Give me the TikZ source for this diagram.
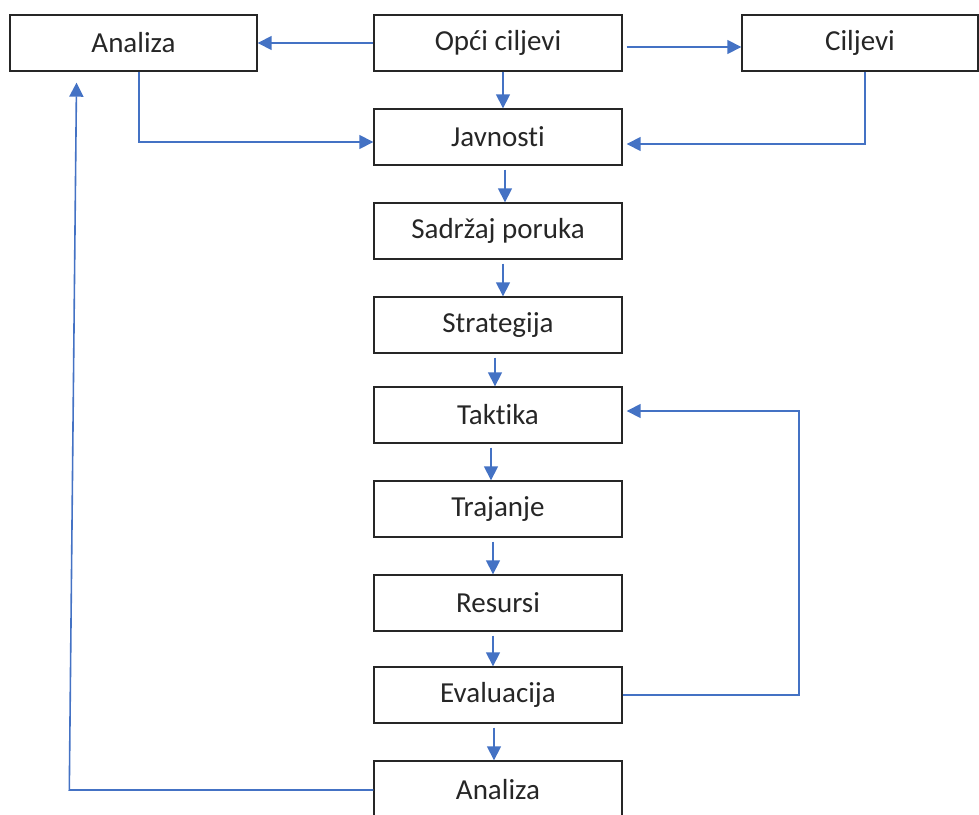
\documentclass[tikz,border=0pt]{standalone}
\usepackage{fontspec}
\setmainfont{Carlito}[Ligatures=NoCommon]
\usetikzlibrary{arrows.meta}
\definecolor{arr}{HTML}{4472C4}
\definecolor{txt}{HTML}{262626}
\begin{document}
\begin{tikzpicture}[x=1pt,y=-1pt,
 box/.style={draw=black!85, line width=1.4pt, minimum width=248pt, minimum height=56pt, inner sep=0pt, font=\fontsize{29}{34}\selectfont, text=txt},
 conn/.style={draw=arr, line width=1.6pt, -{Triangle[length=14pt,width=14pt]}}]
\useasboundingbox (0,0) rectangle (979,814);
\clip (0,0) rectangle (979,814);
\node[box, minimum width=247pt] (a1) at (133.5,43) {Analiza};
\node[box] (op) at (498,43) {Opći ciljevi};
\node[box, minimum width=236pt] (ci) at (860,43) {Ciljevi};
\node[box] (jav) at (498,137) {Javnosti};
\node[box] (sad) at (498,231) {Sadržaj poruka};
\node[box] (str) at (498,325) {Strategija};
\node[box] (tak) at (498,415) {Taktika};
\node[box] (tra) at (498,509) {Trajanje};
\node[box] (res) at (498,603) {Resursi};
\node[box] (eva) at (498,695) {Evaluacija};
\node[box, minimum height=58pt] (a2) at (498,790) {Analiza};
\draw[conn] (op.west) -- (a1.east);
\draw[conn] ([shift={(4,4)}]op.east) -- ([shift={(0,4)}]ci.west);
\draw[conn] ([shift={(5,0)}]op.south) -- ([shift={(5,0)}]jav.north);
\draw[conn] ([shift={(5.5,0)}]a1.south) |- ([shift={(0,5)}]jav.west);
\draw[conn] ([shift={(5,0)}]ci.south) |- ([shift={(4,7)}]jav.east);
\draw[conn] ([shift={(7,4)}]jav.south) -- ([shift={(7,0)}]sad.north);
\draw[conn] ([shift={(5,4)}]sad.south) -- ([shift={(5,0)}]str.north);
\draw[conn] ([shift={(-3,4)}]str.south) -- ([shift={(-3,0)}]tak.north);
\draw[conn] ([shift={(-7,4)}]tak.south) -- ([shift={(-7,0)}]tra.north);
\draw[conn] ([shift={(-5,4)}]tra.south) -- ([shift={(-5,0)}]res.north);
\draw[conn] ([shift={(-5,4)}]res.south) -- ([shift={(-5,0)}]eva.north);
\draw[conn] ([shift={(-4,4)}]eva.south) -- ([shift={(-4,0)}]a2.north);
\draw[conn] (eva.east) -- ++(176,0) |- ([shift={(4,-4)}]tak.east);
\draw[conn] (a2.west) -- ++(-304,0) -- ([shift={(-57,11)}]a1.south);
\end{tikzpicture}
\end{document}
